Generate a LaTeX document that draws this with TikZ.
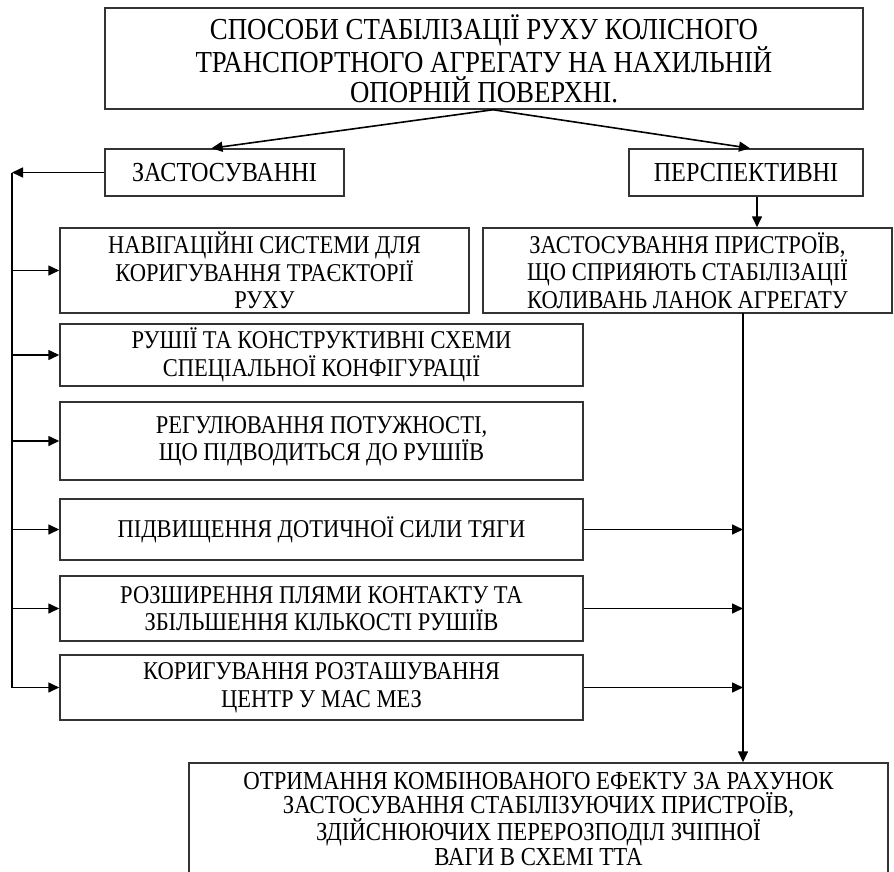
\documentclass[tikz,border=0pt]{standalone}
\usepackage{fontspec}
\setmainfont[FakeStretch=0.88]{Liberation Serif}
\usetikzlibrary{arrows.meta, positioning}

\begin{document}
\begin{tikzpicture}[x=1pt, y=-1pt,
    box/.style={draw=black!80, line width=1.5pt, align=center, inner sep=0pt,
        font=\fontsize{25.6}{27.5}\selectfont},
    head/.style={box, font=\fontsize{27.5}{29}\selectfont},
    arr/.style={line width=1.6pt, -{Triangle[length=11pt, width=10pt]}},
    bus/.style={line width=1.6pt}]
    \useasboundingbox (0,0) rectangle (894,872);

    % Boxes
    \node[head, minimum width=758pt, minimum height=101pt,
        font=\fontsize{30.5}{29.5}\selectfont] (title) at (484,58.5)
        {СПОСОБИ СТАБІЛІЗАЦІЇ РУХУ КОЛІСНОГО\\ТРАНСПОРТНОГО АГРЕГАТУ НА НАХИЛЬНІЙ\\ОПОРНІЙ ПОВЕРХНІ.};
    \node[head, minimum width=239pt, minimum height=47pt] (zast) at (224.5,172.5) {ЗАСТОСУВАННІ};
    \node[head, minimum width=234pt, minimum height=47pt] (persp) at (746,172.5) {ПЕРСПЕКТИВНІ};
    \node[box, minimum width=409pt, minimum height=85pt] (nav) at (264.5,270.5)
        {НАВІГАЦІЙНІ СИСТЕМИ ДЛЯ\\КОРИГУВАННЯ ТРАЄКТОРІЇ\\РУХУ};
    \node[box, minimum width=409pt, minimum height=85pt] (pryst) at (687.5,270.5)
        {ЗАСТОСУВАННЯ ПРИСТРОЇВ,\\ЩО СПРИЯЮТЬ СТАБІЛІЗАЦІЇ\\КОЛИВАНЬ ЛАНОК АГРЕГАТУ};
    \node[box, minimum width=523pt, minimum height=62pt] (rushii) at (321.5,355)
        {РУШІЇ ТА КОНСТРУКТИВНІ СХЕМИ\\СПЕЦІАЛЬНОЇ КОНФІГУРАЦІЇ};
    \node[box, minimum width=523pt, minimum height=78pt] (rehul) at (321.5,441)
        {РЕГУЛЮВАННЯ ПОТУЖНОСТІ,\\ЩО ПІДВОДИТЬСЯ ДО РУШІЇВ};
    \node[box, minimum width=523pt, minimum height=61pt] (pidv) at (321.5,529.5)
        {ПІДВИЩЕННЯ ДОТИЧНОЇ СИЛИ ТЯГИ};
    \node[box, minimum width=523pt, minimum height=65pt] (rozsh) at (321.5,608.5)
        {РОЗШИРЕННЯ ПЛЯМИ КОНТАКТУ ТА\\ЗБІЛЬШЕННЯ КІЛЬКОСТІ РУШІЇВ};
    \node[box, minimum width=523pt, minimum height=65pt] (koryh) at (321.5,687.5)
        {КОРИГУВАННЯ РОЗТАШУВАННЯ\\ЦЕНТР У МАС МЕЗ};
    \node[box, minimum width=699pt, minimum height=112pt,
        font=\fontsize{25.9}{24.5}\selectfont] (result) at (538.5,819)
        {ОТРИМАННЯ КОМБІНОВАНОГО ЕФЕКТУ ЗА РАХУНОК\\ЗАСТОСУВАННЯ СТАБІЛІЗУЮЧИХ ПРИСТРОЇВ,\\ЗДІЙСНЮЮЧИХ ПЕРЕРОЗПОДІЛ ЗЧІПНОЇ\\ВАГИ В СХЕМІ ТТА};

    % Bus lines
    \coordinate (ltop) at (12,172.5);
    \coordinate (lbot) at (12,687.5);
    \coordinate (rtop) at (743,313);

    % Arrows
    \draw[arr] ([xshift=9pt]title.south) -- ([xshift=-13pt]zast.north);
    \draw[arr] ([xshift=9pt]title.south) -- ([xshift=4pt]persp.north);
    \draw[arr] ([xshift=11pt]persp.south) -- ([xshift=11pt]persp.south |- pryst.north);
    \draw[arr] (zast.west) -- (ltop);
    \draw[bus] (ltop) -- (lbot);
    \foreach \b in {nav, rushii, rehul, pidv, rozsh, koryh}
        \draw[arr] (ltop |- \b.west) -- (\b.west);
    \draw[arr] (rtop) -- (rtop |- result.north);
    \foreach \b in {pidv, rozsh, koryh}
        \draw[arr] (\b.east) -- (\b.east -| rtop);
\end{tikzpicture}
\end{document}
